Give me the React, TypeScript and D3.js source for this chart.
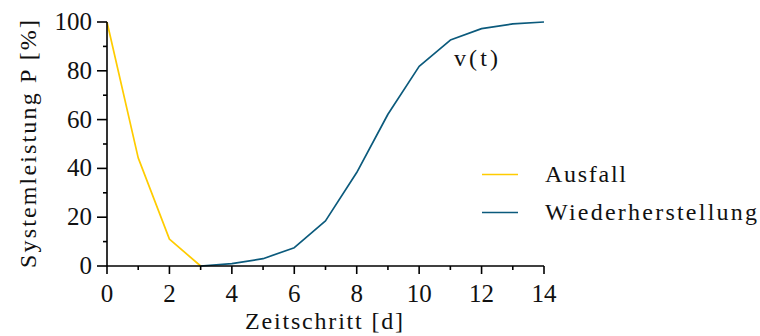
import React from "react";
import * as d3 from "d3";

const failureX = [0, 1, 2, 3];
const failureY = [100, 44.3, 11, 0];
const recoveryX = [3, 4, 5, 6, 7, 8, 9, 10, 11, 12, 13, 14];
const recoveryY = [0, 1, 3, 7.5, 18.5, 38.3, 62.2, 81.8, 92.6, 97.3, 99.2, 100];
const xTicks = [0, 2, 4, 6, 8, 10, 12, 14];
const yTicks = [0, 20, 40, 60, 80, 100];
const seriesNames = ["Ausfall", "Wiederherstellung"];
const colors = ["#FFCC00", "#0B5A7C"];

const W = 760, H = 336;
const TXT = "#111";
const tStyle: React.CSSProperties = { fontFamily: "'Liberation Serif', 'DejaVu Serif', serif", fontSize: "24px" };
const tickStyle: React.CSSProperties = { fontFamily: "'Liberation Serif', 'DejaVu Serif', serif", fontSize: "25px" };

export default function App() {
  const x = d3.scaleLinear().domain([0, 14]).range([107, 544]);
  const y = d3.scaleLinear().domain([0, 100]).range([266, 22]);
  const line = d3.line<[number, number]>().x(d => x(d[0])).y(d => y(d[1]));
  const data = [
    failureX.map((v, i) => [v, failureY[i]] as [number, number]),
    recoveryX.map((v, i) => [v, recoveryY[i]] as [number, number]),
  ];
  const xAll = d3.range(0, 15, 1);
  const yAll = d3.range(0, 101, 10);
  const legY = [174.5, 212.5];
  const legW = [81, 212];
  return (
    <svg width={W} height={H} style={{ position: "fixed", left: 0, top: 0, background: "#fff", fontFamily: "'Liberation Serif', serif" }}>
      {data.map((d, i) => (
        <path key={i} d={line(d)!} fill="none" stroke={colors[i]} strokeWidth={1.7} strokeLinejoin="round" />
      ))}
      <path d={`M${x(0)},${y(0)}H${x(14)}`} stroke="#000" strokeWidth={1.6} />
      {xAll.map(t => (
        <line key={t} x1={x(t)} x2={x(t)} y1={y(0)} y2={y(0) + (t % 2 === 0 ? 8 : 4)} stroke="#000" strokeWidth={1.6} />
      ))}
      {xTicks.map(t => (
        <text key={t} x={x(t)} y={301.5} textAnchor="middle" style={tickStyle} fill={TXT}>{t}</text>
      ))}
      <path d={`M${x(0)},${y(0)}V${y(100)}`} stroke="#000" strokeWidth={1.6} />
      {yAll.map(t => (
        <line key={t} x1={x(0)} x2={x(0) - (t % 20 === 0 ? 10 : 4)} y1={y(t)} y2={y(t)} stroke="#000" strokeWidth={1.6} />
      ))}
      {yTicks.map(t => (
        <text key={t} x={92} y={y(t) + 8} textAnchor="end" style={tickStyle} fill={TXT}>{t}</text>
      ))}
      <text x={324} y={328.5} textAnchor="middle" style={tStyle} fill={TXT} textLength={158}>Zeitschritt [d]</text>
      <text transform="translate(36,144) rotate(-90)" textAnchor="middle" style={tStyle} fill={TXT} textLength={248}>Systemleistung P [%]</text>
      <text x={454} y={66} style={tStyle} fill={TXT} textLength={44}>v(t)</text>
      {seriesNames.map((n, i) => (
        <g key={n}>
          <line x1={482} x2={518} y1={legY[i]} y2={legY[i]} stroke={colors[i]} strokeWidth={1.7} />
          <text x={545} y={legY[i] + 7.5} style={tStyle} fill={TXT} textLength={legW[i]}>{n}</text>
        </g>
      ))}
    </svg>
  );
}
